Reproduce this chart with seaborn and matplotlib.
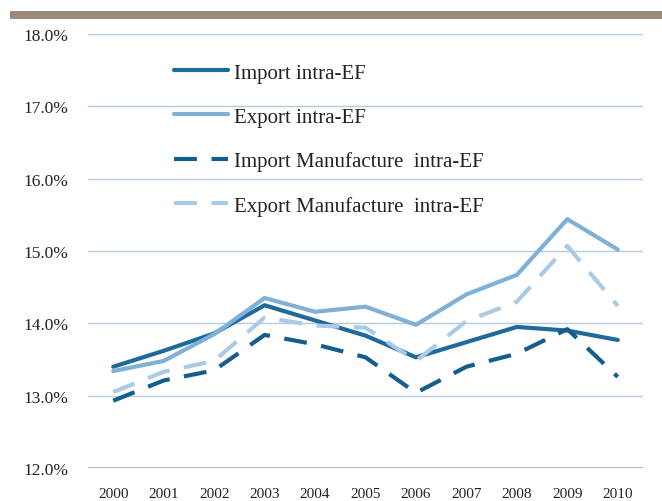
import matplotlib
matplotlib.use("Agg")
import matplotlib.pyplot as plt
import seaborn as sns
import pandas as pd
from matplotlib.patches import Rectangle

years = ["2000", "2001", "2002", "2003", "2004", "2005", "2006", "2007", "2008", "2009", "2010"]
import_intra = [13.40, 13.62, 13.86, 14.25, 14.04, 13.83, 13.53, 13.74, 13.95, 13.90, 13.77]
export_intra = [13.34, 13.48, 13.85, 14.35, 14.16, 14.23, 13.98, 14.40, 14.67, 15.44, 15.02]
import_manuf = [12.93, 13.21, 13.35, 13.84, 13.71, 13.53, 13.04, 13.40, 13.58, 13.92, 13.26]
export_manuf = [13.05, 13.33, 13.48, 14.08, 13.97, 13.94, 13.48, 14.03, 14.30, 15.07, 14.24]
series_names = ["Import intra-EF", "Export intra-EF",
                "Import Manufacture  intra-EF", "Export Manufacture  intra-EF"]
y_ticks = [12, 13, 14, 15, 16, 17, 18]

sns.set_theme(style="white")
plt.rcParams["font.family"] = ["Liberation Serif", "DejaVu Serif"]

df = pd.DataFrame({
    "year": years * 4,
    "value": import_intra + export_intra + import_manuf + export_manuf,
    "series": sum([[n] * len(years) for n in series_names], []),
})

fig = plt.figure(figsize=(6.62, 5.02), dpi=100)
ax = fig.add_axes([88 / 662, 1 - 469 / 502, (643 - 88) / 662, (469 - 35) / 502])

colors = ["#20699b", "#7fb0d7", "#145e8e", "#aacbe5"]
styles = ["-", "-", (0, (5.5, 3.5)), (0, (5.5, 3.5))]
for name, c, ls in zip(series_names, colors, styles):
    sns.lineplot(data=df[df["series"] == name], x="year", y="value", ax=ax,
                 color=c, linewidth=3.0, linestyle=ls, label=name, sort=False)

ax.set_xlim(-0.5, 10.5)
ax.set_ylim(12, 18)
ax.set_yticks(y_ticks)
ax.set_yticklabels([f"{v:.1f}%" for v in y_ticks])
for v in y_ticks[1:]:
    ax.axhline(v, color="#b5cbe0", lw=1.0, zorder=0)
ax.axhline(12, color="#a6a6a6", lw=1.2, zorder=0)
for s in ax.spines.values():
    s.set_visible(False)
ax.tick_params(axis="both", length=0, colors="#222222")
ax.tick_params(axis="y", pad=14, labelsize=12.5)
ax.tick_params(axis="x", pad=14, labelsize=11)
ax.set_xlabel("")
ax.set_ylabel("")
ax.grid(False)

leg = ax.legend(loc="upper left", bbox_to_anchor=(174 / 662, 1 - 64 / 502),
                bbox_transform=fig.transFigure, frameon=False, fontsize=15,
                handlelength=2.6, handletextpad=0.3, labelspacing=1.18,
                borderpad=0, borderaxespad=0)
for t in leg.get_texts():
    t.set_color("#222222")

fig.patches.append(Rectangle((10 / 662, 1 - 20 / 502), 1, 8 / 502,
                             transform=fig.transFigure, facecolor="#9a8b7e",
                             edgecolor="none"))

fig.savefig("out.png", dpi=100)
